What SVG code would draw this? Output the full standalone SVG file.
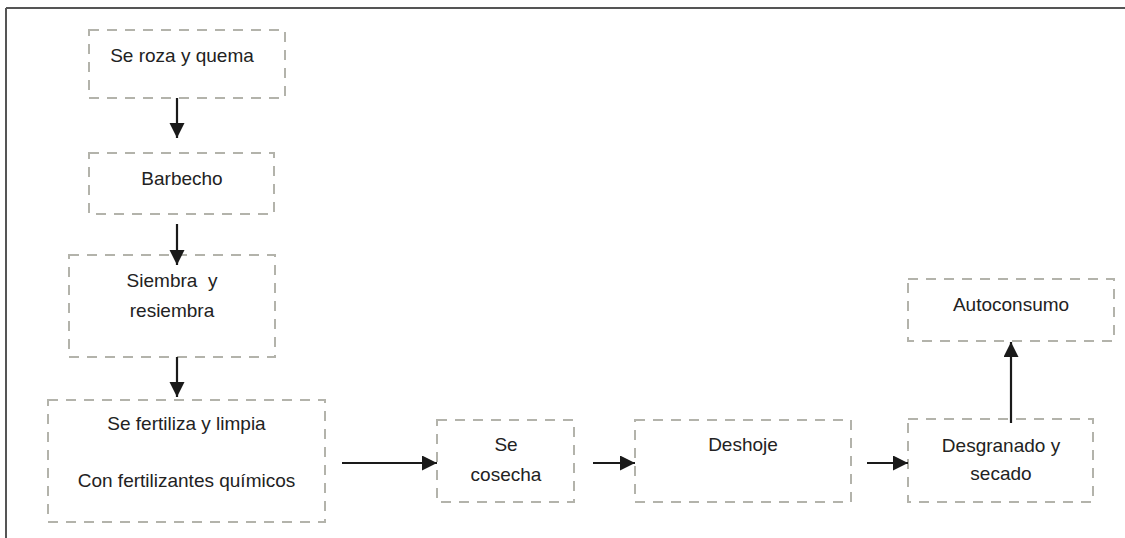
<svg xmlns="http://www.w3.org/2000/svg" width="1125" height="538" viewBox="0 0 1125 538">
<style>
.box{fill:none;stroke:#b3b3ab;stroke-width:2;stroke-dasharray:10 8}
.lbl{font-family:"Liberation Sans",Arial,sans-serif;font-size:19px;fill:#222;text-anchor:middle}
.arr{stroke:#1a1a1a;stroke-width:2.2;fill:none;marker-end:url(#ah)}
</style>
<defs>
<marker id="ah" markerUnits="userSpaceOnUse" markerWidth="16" markerHeight="16" refX="15" refY="7.5" orient="auto">
<path d="M0,0 L15,7.5 L0,15 z" fill="#1a1a1a"/>
</marker>
</defs>
<rect width="1125" height="538" fill="#fff"/>
<g id="frame">
<line x1="6" y1="8" x2="1125" y2="8" stroke="#555" stroke-width="2"/>
<line x1="6" y1="8" x2="6" y2="538" stroke="#555" stroke-width="2"/>
</g>
<g id="n1"><rect class="box" x="89" y="30" width="196" height="68"/><text class="lbl" x="182" y="62">Se roza y quema</text></g>
<g id="n2"><rect class="box" x="89" y="153" width="185" height="61"/><text class="lbl" x="182" y="185">Barbecho</text></g>
<g id="n3"><rect class="box" x="69" y="255" width="206" height="102"/><text class="lbl" x="172" y="287" xml:space="preserve">Siembra  y</text><text class="lbl" x="172" y="317">resiembra</text></g>
<g id="n4"><rect class="box" x="48" y="400" width="277" height="122"/><text class="lbl" x="186.5" y="430">Se fertiliza y limpia</text><text class="lbl" x="186.5" y="487">Con fertilizantes químicos</text></g>
<g id="n5"><rect class="box" x="437" y="420" width="137" height="82"/><text class="lbl" x="506" y="451">Se</text><text class="lbl" x="506" y="481">cosecha</text></g>
<g id="n6"><rect class="box" x="635" y="420" width="216" height="82"/><text class="lbl" x="743" y="451">Deshoje</text></g>
<g id="n7"><rect class="box" x="908" y="419" width="185" height="83"/><text class="lbl" x="1001" y="452">Desgranado y</text><text class="lbl" x="1001" y="480">secado</text></g>
<g id="n8"><rect class="box" x="908" y="279" width="206" height="62"/><text class="lbl" x="1011" y="311">Autoconsumo</text></g>
<g id="connectors">
<line class="arr" x1="177" y1="98" x2="177" y2="138"/>
<line class="arr" x1="177" y1="224" x2="177" y2="265"/>
<line class="arr" x1="177" y1="357" x2="177" y2="397"/>
<line class="arr" x1="342" y1="463" x2="437" y2="463"/>
<line class="arr" x1="593" y1="463" x2="635" y2="463"/>
<line class="arr" x1="867" y1="463" x2="908" y2="463"/>
<line class="arr" x1="1011" y1="423" x2="1011" y2="342"/>
</g>
</svg>
